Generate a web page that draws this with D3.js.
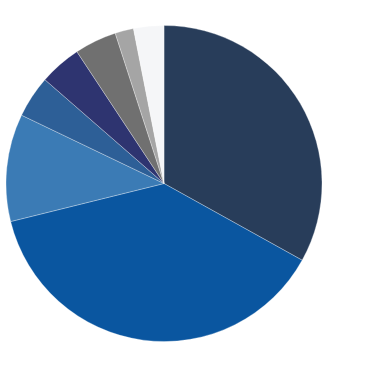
<!DOCTYPE html>
<html><head><meta charset="utf-8">
<script src="https://cdn.jsdelivr.net/npm/d3@7"></script>
<style>html,body{margin:0;padding:0;background:#fff;}</style>
</head><body>
<svg id="c" width="375" height="366"></svg>
<script>
const categories = ["A","B","C","D","E","F","G","H"];
const values = [33.1, 38.1, 11.0, 4.3, 4.3, 4.3, 1.9, 3.1];
const colors = ["#283d5a","#0a56a0","#3b7bb5","#2d5f97","#2e3470","#707070","#a5a5a5","#f5f6f8"];

const svg = d3.select("#c");
const g = svg.append("g").attr("transform","translate(164,183.5)");
const pie = d3.pie().sort(null).value(d => d.v);
const arc = d3.arc().innerRadius(0).outerRadius(158);
const data = categories.map((c,i)=>({c, v: values[i], col: colors[i]}));
g.selectAll("path").data(pie(data)).join("path")
  .attr("d", arc)
  .attr("fill", d => d.data.col)
  .attr("stroke", "#ffffff")
  .attr("stroke-width", 0.3);
</script>
</body></html>
